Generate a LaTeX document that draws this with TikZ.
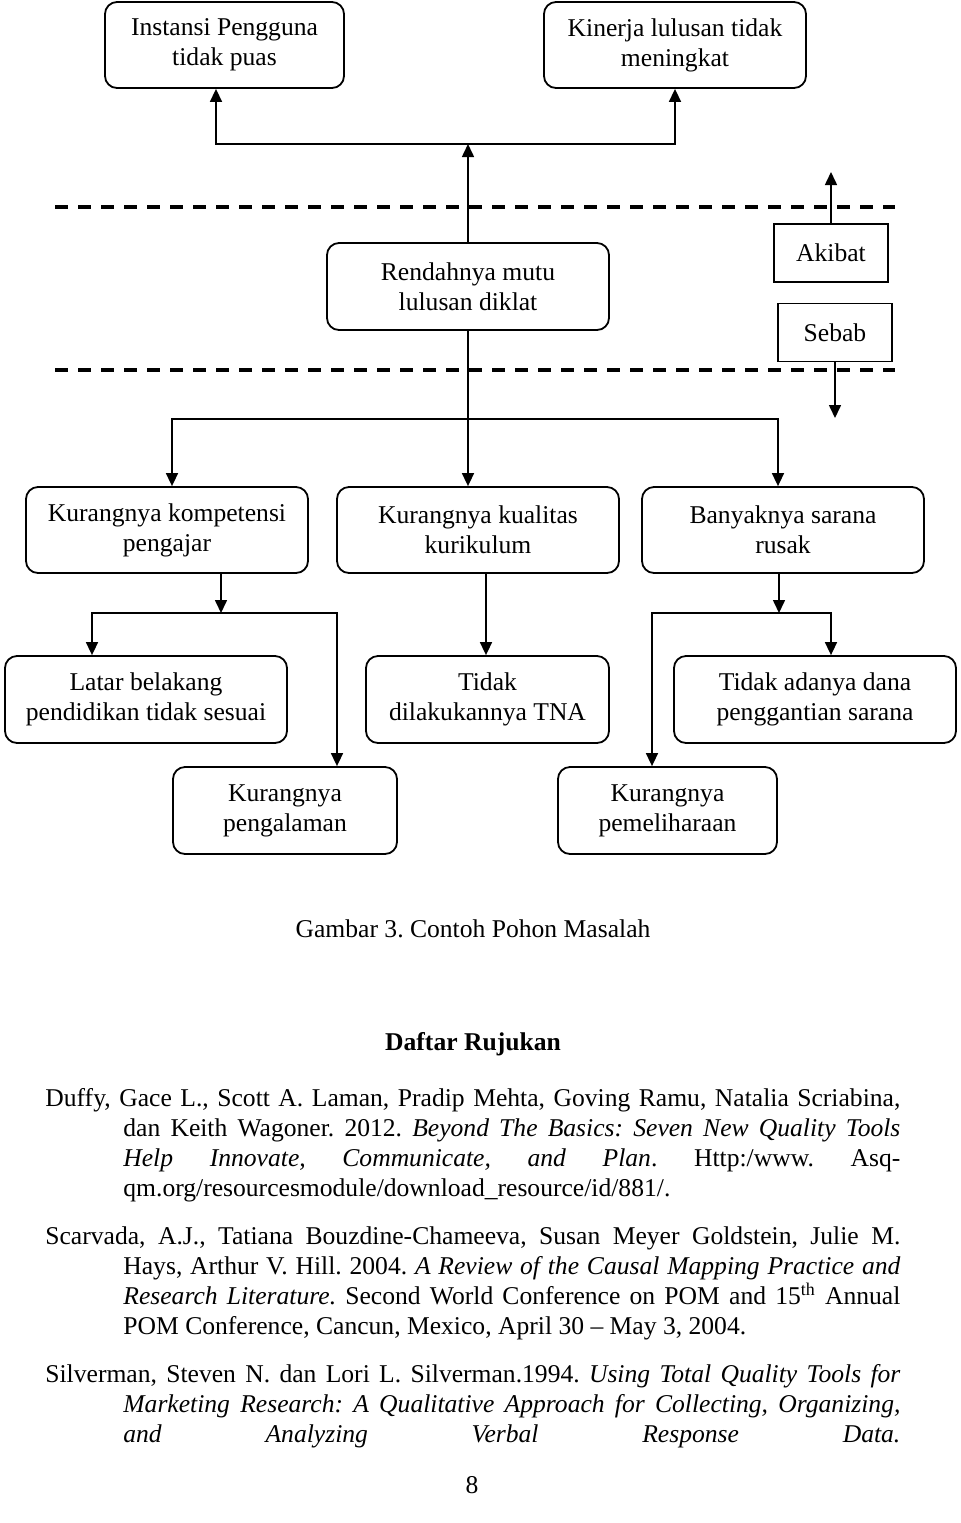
\documentclass[tikz,border=0pt]{standalone}
\usepackage{fontspec}
\setmainfont{Liberation Serif}
\usetikzlibrary{arrows.meta,positioning}

\begin{document}
\frenchspacing
\begin{tikzpicture}[x=0.5pt,y=-0.5pt,font=\fontsize{12.8}{15}\selectfont,
    masalah/.style={draw,line width=0.9pt,rounded corners=6pt,align=center,inner sep=0pt},
    kotak/.style={draw,line width=0.9pt,align=center,inner sep=0pt,
                  minimum width=57pt,minimum height=29pt},
    panah/.style={-{Triangle[length=6.5pt,width=6pt]},line width=0.8pt},
    garis/.style={line width=2pt,dash pattern=on 6.5pt off 5pt}]
        \useasboundingbox (0,0) rectangle (960,1523);
        % akibat
        \node[masalah,minimum width=119.5pt,minimum height=43pt] (instansi)
              at (224.5,45) {Instansi Pengguna\\tidak puas};
        \node[masalah,minimum width=131pt,minimum height=43pt] (kinerja)
              at (675,45) {Kinerja lulusan tidak\\meningkat};
        % masalah inti
        \node[masalah,minimum width=141pt,minimum height=43.5pt] (rendah)
              at (468,286.5) {Rendahnya mutu\\lulusan diklat};
        \node[kotak] (akibat) at (831,253) {Akibat};
        \node[kotak] (sebab) at (835,332.5) {Sebab};
        % sebab
        \node[masalah,minimum width=141pt,minimum height=43pt] (kompetensi)
              at (167,530) {Kurangnya kompetensi\\pengajar};
        \node[masalah,minimum width=141pt,minimum height=43pt] (kualitas)
              at (478,530) {Kurangnya kualitas\\kurikulum};
        \node[masalah,minimum width=141pt,minimum height=43pt] (banyak)
              at (783,530) {Banyaknya sarana\\rusak};
        \node[masalah,minimum width=141pt,minimum height=43.5pt] (latar)
              at (146,699.5) {Latar belakang\\pendidikan tidak sesuai};
        \node[masalah,minimum width=121.5pt,minimum height=43.5pt] (tna)
              at (487.5,699.5) {Tidak\\dilakukannya TNA};
        \node[masalah,minimum width=141pt,minimum height=43.5pt] (dana)
              at (815,699.5) {Tidak adanya dana\\penggantian sarana};
        \node[masalah,minimum width=112pt,minimum height=43.5pt] (pengalaman)
              at (285,810.5) {Kurangnya\\pengalaman};
        \node[masalah,minimum width=109.5pt,minimum height=43.5pt] (pemeliharaan)
              at (667.5,810.5) {Kurangnya\\pemeliharaan};
        % garis batas
        \draw[garis] (55,207) -- (895,207);
        \draw[garis] (55,370) -- (895,370);
        % panah ke akibat
        \coordinate (atas) at (467,144);
        \draw[panah] (rendah.north) -- (rendah.north |- atas);
        \draw[panah] (rendah.north |- atas) -| ([xshift=-4.25pt]instansi.south);
        \draw[panah] (rendah.north |- atas) -| (kinerja.south);
        \coordinate (ujungatas) at (831,172);
        \draw[panah] (akibat.north) -- (ujungatas);
        % panah ke sebab
        \coordinate (bawah) at (468,419);
        \draw[panah] (rendah.south) -- (rendah.south |- kualitas.north);
        \draw[panah] (bawah) -| ([xshift=2.5pt]kompetensi.north);
        \draw[panah] (bawah) -| ([xshift=-2.5pt]banyak.north);
        \coordinate (ujungbawah) at (835,418);
        \draw[panah] (sebab.south) -- (ujungbawah);
        \coordinate (cabangkiri) at (221,613);
        \draw[panah] (kompetensi.south -| cabangkiri) -- (cabangkiri);
        \draw[panah] (cabangkiri) -| ([xshift=-27pt]latar.north);
        \draw[panah] (cabangkiri) -| ([xshift=26pt]pengalaman.north);
        \coordinate (tengah) at (486,573);
        \draw[panah] (kualitas.south -| tengah) -- (tengah |- tna.north);
        \coordinate (cabangkanan) at (779,613);
        \draw[panah] (banyak.south -| cabangkanan) -- (cabangkanan);
        \draw[panah] (cabangkanan) -| ([xshift=8pt]dana.north);
        \draw[panah] (cabangkanan) -| ([xshift=-7.75pt]pemeliharaan.north);
        % keterangan dan rujukan
        \node (judul) at (473,929) {Gambar 3. Contoh Pohon Masalah};
        \node (daftar) at (473,1044) {\bfseries Daftar Rujukan};
        \node[anchor=north west,inner sep=0pt,text width=427.5pt,align=justify]
              (rujukan) at (45,1088) {%
        \setlength{\parskip}{9pt}%
        \noindent\hangindent=39pt\hangafter=1 Duffy, Gace L., Scott A. Laman, Pradip Mehta,
        Goving Ramu, Natalia Scriabina,\linebreak dan Keith Wagoner. 2012. \textit{Beyond
        The Basics: Seven New Quality Tools\linebreak Help Innovate, Communicate, and
        Plan}. Http:/www. Asq-\linebreak qm.org/resourcesmodule/download\_resource/id/881/.\par
        \noindent\hangindent=39pt\hangafter=1 Scarvada, A.J., Tatiana Bouzdine-Chameeva,
        Susan Meyer Goldstein, Julie M.\linebreak Hays, Arthur V. Hill. 2004. \textit{A
        Review of the Causal Mapping Practice and\linebreak Research Literature.} Second
        World Conference on POM and 15\textsuperscript{th} Annual\linebreak POM
        Conference, Cancun, Mexico, April 30 – May 3, 2004.\par
        \noindent\hangindent=39pt\hangafter=1 Silverman, Steven N. dan Lori L.
        Silverman.1994. \textit{Using Total Quality Tools for\linebreak Marketing
        Research: A Qualitative Approach for Collecting, Organizing,\linebreak and
        Analyzing Verbal Response Data.}\parfillskip=0pt\par};
        \node (halaman) at (472,1485) {8};
      \end{tikzpicture}
\end{document}
